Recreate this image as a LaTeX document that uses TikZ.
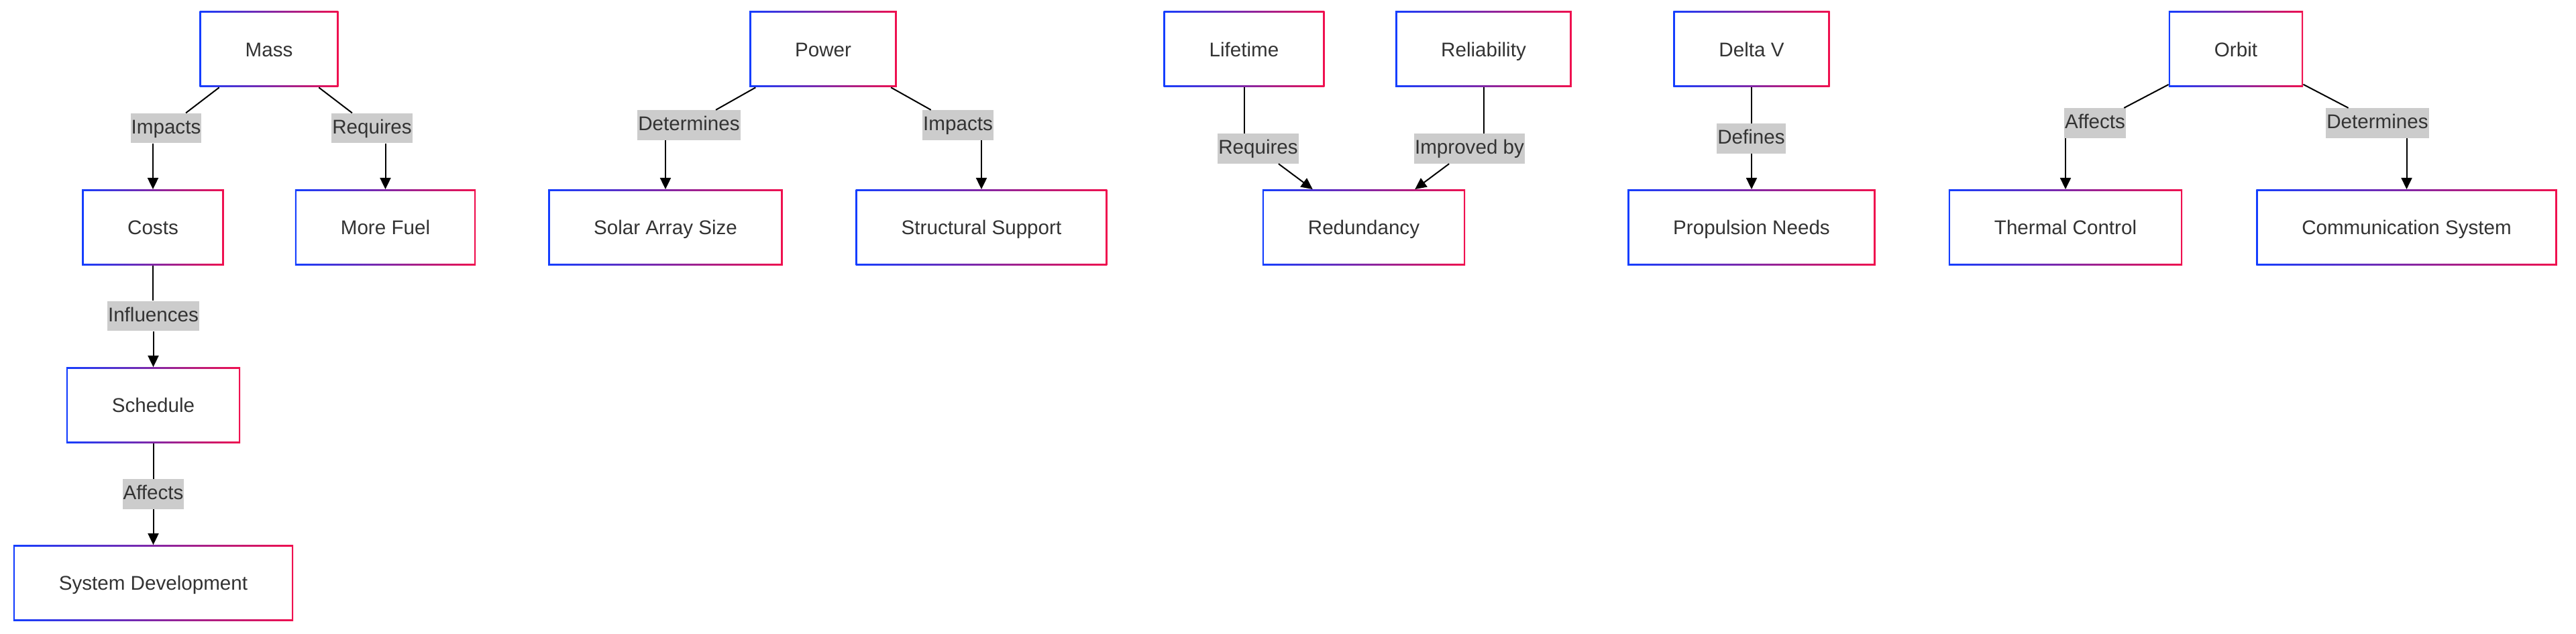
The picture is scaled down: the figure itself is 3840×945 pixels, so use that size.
\documentclass[tikz,border=0pt]{standalone}
\usepackage{fontspec}
\setmainfont{Liberation Sans}
\usetikzlibrary{positioning,arrows.meta,calc}
\definecolor{edgeblue}{RGB}{20,62,255}
\definecolor{edgered}{RGB}{240,16,78}
\definecolor{lblgray}{RGB}{204,204,204}
\definecolor{txtgray}{RGB}{51,51,51}
\newcommand{\diagfont}{\fontsize{14.8}{17.8}\selectfont}
\tikzset{
block/.style={
  rectangle,
  fill=white,
  text=txtgray,
  font=\diagfont,
  text height=10.6pt,
  text depth=0pt,
  inner xsep=34pt,
  inner ysep=0pt,
  minimum height=56.5pt,
  path picture={
    \shade[left color=edgeblue, right color=edgered]
      (path picture bounding box.south west) rectangle (path picture bounding box.north east);
    \fill[white] ([shift={(1.25pt,1.25pt)}]path picture bounding box.south west)
      rectangle ([shift={(-1.25pt,-1.25pt)}]path picture bounding box.north east);
  }
  },
elabel/.style={
  rectangle,
  fill=lblgray,
  text=txtgray,
  font=\diagfont,
  text height=10.6pt,
  text depth=2.3pt,
  inner xsep=0.5pt,
  inner ysep=0pt,
  minimum height=22.25pt
  },
line/.style={draw, line width=1pt},
arrowline/.style={line, -{Triangle[length=8.5pt,width=8pt]}}
}

\begin{document}
\begin{tikzpicture}[x=0.5pt,y=-0.5pt]
\useasboundingbox (0,0) rectangle (3840,945);

% mass tree
\node[block] (mass) at (401,73.5) {Mass};
\node[block] (costs) at (228,339) {Costs};
\node[block] (fuel) at (574.5,339) {More Fuel};
\node[block] (sched) at (228.5,604) {Schedule};
\node[block] (sysdev) at (228.5,869) {System Development};

\node[elabel] (impM) at (247.5,191) {Impacts};
\node[elabel] (reqM) at (554.5,191) {Requires};
\node[elabel] (inflC) at (228.5,471) {Influences};
\node[elabel] (affS) at (228.5,736.5) {Affects};

\draw[line] (mass) -- (impM);
\draw[arrowline] (impM.south -| costs) -- (costs);
\draw[line] (mass) -- (reqM);
\draw[arrowline] (reqM.south -| fuel) -- (fuel);
\draw[line] (costs) -- (costs |- inflC.north);
\draw[arrowline] (inflC.south -| sched) -- (sched);
\draw[line] (sched) -- (sched |- affS.north);
\draw[arrowline] (affS.south -| sysdev) -- (sysdev);

% power tree
\node[block] (power) at (1227,73.5) {Power};
\node[block] (solar) at (992,339) {Solar Array Size};
\node[block] (struct) at (1463,339) {Structural Support};

\node[elabel] (detP) at (1027,186.5) {Determines};
\node[elabel] (impP) at (1428,186.5) {Impacts};

\draw[line] (power) -- (detP);
\draw[arrowline] (detP.south -| solar) -- (solar);
\draw[line] (power) -- (impP);
\draw[arrowline] (impP.south -| struct) -- (struct);

% lifetime and reliability
\node[block] (life) at (1854.5,73.5) {Lifetime};
\node[block] (relia) at (2211.5,73.5) {Reliability};
\node[block] (redund) at (2033,339) {Redundancy};

\node[elabel] (reqL) at (1875.5,221.5) {Requires};
\node[elabel] (impR) at (2190.5,221.5) {Improved by};

\draw[line] (life) -- (life |- reqL.north);
\draw[arrowline] (reqL) -- (redund);
\draw[line] (relia) -- (relia |- impR.north);
\draw[arrowline] (impR) -- (redund);

% delta v
\node[block] (deltav) at (2611,73.5) {Delta V};
\node[block] (propul) at (2611,339) {Propulsion Needs};

\node[elabel] (defD) at (2610.5,206.5) {Defines};

\draw[line] (deltav) -- (deltav |- defD.north);
\draw[arrowline] (defD.south -| propul) -- (propul);

% orbit tree
\node[block] (orbit) at (3333,73.5) {Orbit};
\node[block] (thermal) at (3079,339) {Thermal Control};
\node[block] (comms) at (3587.5,339) {Communication System};

\node[elabel] (affO) at (3123,183.5) {Affects};
\node[elabel] (detO) at (3544,183.5) {Determines};

\draw[line] (orbit) -- (affO);
\draw[arrowline] (affO.south -| thermal) -- (thermal);
\draw[line] (orbit) -- (detO);
\draw[arrowline] (detO.south -| comms) -- (comms);

\end{tikzpicture}
\end{document}
